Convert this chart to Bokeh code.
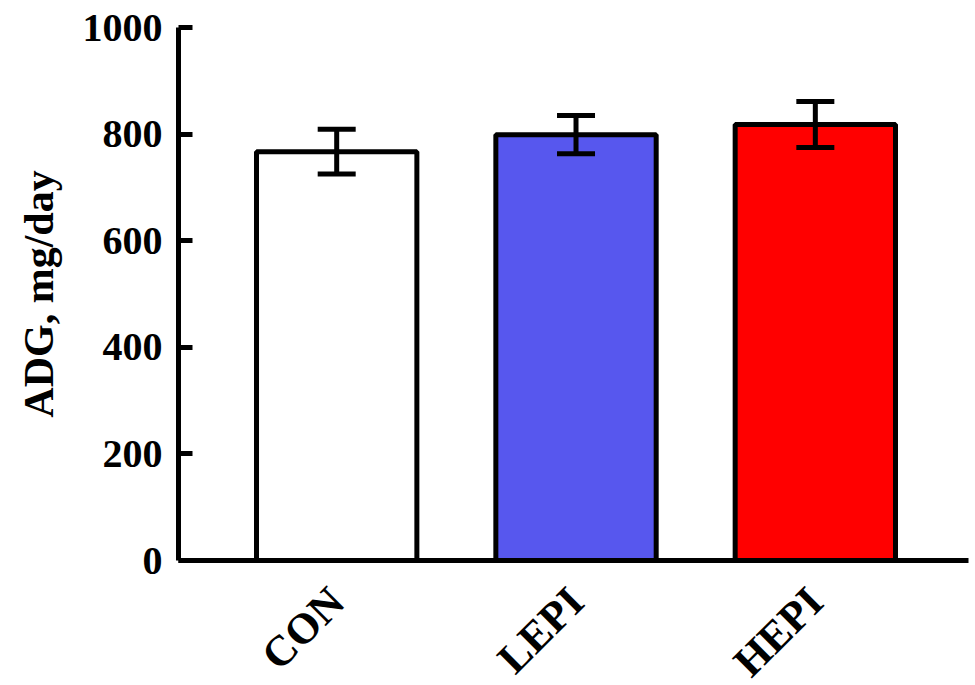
import numpy as np
from math import pi
from bokeh.plotting import figure
from bokeh.models import ColumnDataSource, Whisker, TeeHead, FixedTicker, Range1d
from bokeh.embed import file_html
from bokeh.resources import INLINE

categories = ["CON", "LEPI", "HEPI"]
adg_mean = [767, 799, 818]
adg_err = [42, 36, 43]
bar_colors = ["#FFFFFF", "#5757EE", "#FF0000"]
y_ticks = [0, 200, 400, 600, 800, 1000]

x = list(np.arange(len(categories)) + 1)
upper = [m + e for m, e in zip(adg_mean, adg_err)]
lower = [m - e for m, e in zip(adg_mean, adg_err)]
src = ColumnDataSource(dict(x=x, top=adg_mean, color=bar_colors, upper=upper, lower=lower))

FONT = "Liberation Serif"
p = figure(frame_width=790, frame_height=533, output_backend="svg", toolbar_location=None,
           x_range=Range1d(0.339, 3.64), y_range=Range1d(0, 1000),
           min_border_left=178, min_border_top=27, min_border_bottom=110, min_border_right=4)
p.outline_line_color = None
p.xgrid.visible = False
p.ygrid.visible = False

p.vbar(x="x", top="top", width=0.67, bottom=0, source=src, fill_color="color",
       line_color="black", line_width=5)

w = Whisker(base="x", upper="upper", lower="lower", source=src, line_width=5, line_color="black",
            level="overlay",
            upper_head=TeeHead(size=38, line_width=5, line_color="black"),
            lower_head=TeeHead(size=38, line_width=5, line_color="black"))
p.add_layout(w)

p.yaxis.ticker = FixedTicker(ticks=y_ticks)
p.yaxis.axis_label = "ADG, mg/day"
p.yaxis.axis_label_text_font = FONT
p.yaxis.axis_label_text_font_style = "bold"
p.yaxis.axis_label_text_font_size = "42px"
p.yaxis.axis_label_text_color = "black"
p.yaxis.axis_label_standoff = 18
p.yaxis.major_label_text_font = FONT
p.yaxis.major_label_text_font_style = "bold"
p.yaxis.major_label_text_font_size = "40px"
p.yaxis.major_label_text_color = "black"
p.yaxis.major_label_standoff = 16
p.yaxis.axis_line_width = 5
p.yaxis.axis_line_color = "black"
p.yaxis.major_tick_in = 14
p.yaxis.major_tick_out = 0
p.yaxis.major_tick_line_width = 5
p.yaxis.minor_tick_line_color = None

p.xaxis.ticker = FixedTicker(ticks=x)
p.xaxis.major_label_overrides = {int(xi): c for xi, c in zip(x, categories)}
p.xaxis.major_label_orientation = pi / 4
p.xaxis.major_label_text_font = FONT
p.xaxis.major_label_text_font_style = "bold"
p.xaxis.major_label_text_font_size = "43px"
p.xaxis.major_label_text_color = "black"
p.xaxis.major_label_standoff = 28
p.xaxis.axis_line_width = 5
p.xaxis.axis_line_color = "black"
p.xaxis.major_tick_line_color = None
p.xaxis.minor_tick_line_color = None

open("out.html", "w").write(file_html(p, INLINE))
